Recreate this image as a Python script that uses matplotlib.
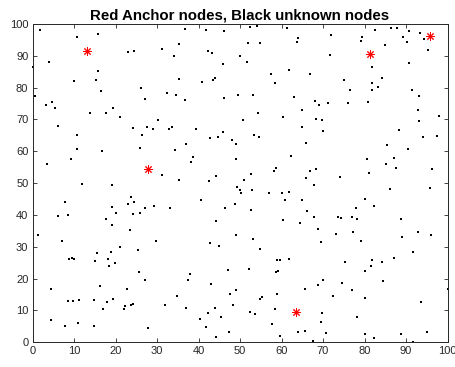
import matplotlib
matplotlib.use("Agg")
import matplotlib.pyplot as plt

# Unknown (black) nodes, grouped in horizontal bands (top to bottom)
x_band1 = [1.7,10.8,15.9,23.0,24.5,31.2,4.0,0.1,15.8,9.9,15.4,16.4,26.1,32.3,0.7,4.6,3.3,27.0,
           36.8,41.9,46.2,52.3,54.0,61.3,63.9,63.7,35.2,51.9,54.9,34.0,42.3,43.3,49.9,51.6,45.8,57.5,61.9,58.4,35.3,40.9,43.4,44.0,34.6,36.7,46.2,49.6,53.2,63.0,
           71.9,79.3,79.1,82.5,86.3,87.9,90.6,89.2,90.3,93.4,94.4,85.0,71.7,95.3,81.8,90.8,66.9,75.0,76.6,81.9,84.3,81.8,83.3,91.4,93.1,68.0,69.0,71.1,75.9,80.9]
y_band1 = [98.2,96.0,96.8,91.1,91.5,92.0,88.2,86.4,85.3,82.2,82.4,79.1,79.8,78.3,77.3,75.4,74.4,76.3,
           98.5,98.1,97.9,99.1,99.4,98.7,95.6,94.2,93.7,94.1,94.0,89.9,91.4,90.9,89.9,88.2,87.4,84.4,85.7,81.4,82.8,81.8,82.3,83.1,77.8,76.1,76.7,77.6,77.7,77.0,
           96.6,95.8,94.8,98.1,98.7,98.7,97.9,95.8,94.2,97.1,95.3,93.3,90.2,91.8,86.6,87.7,84.3,82.3,79.3,81.6,83.0,79.3,80.1,79.4,77.4,75.8,74.5,75.3,75.2,75.4]

x_band2 = [5.3,13.9,17.7,19.4,21.1,6.2,10.8,24.2,27.7,29.0,26.5,30.2,32.8,10.7,16.7,25.8,9.3,3.5,31.2,12.0,19.1,
           54.4,65.0,60.4,50.7,64.9,33.6,39.5,45.9,42.7,44.6,48.1,49.0,53.3,54.6,65.8,37.0,34.3,38.6,38.2,49.0,62.3,58.7,58.3,35.2,42.5,44.1,51.0,52.6,66.0,
           68.4,69.7,70.0,92.9,93.1,98.0,88.2,94.1,97.4,85.4,90.5,80.7,87.0,85.1,87.7,81.2,66.8,68.4,74.2,96.3,67.9]
y_band2 = [73.5,72.0,72.0,73.7,70.8,67.9,65.2,67.4,67.7,66.9,65.2,69.9,66.9,60.8,60.0,61.1,57.5,55.9,52.7,49.6,49.3,
           71.9,72.9,70.9,69.7,67.7,67.7,66.9,66.1,64.3,64.4,63.7,62.2,65.2,64.5,62.6,62.3,60.5,58.1,56.6,57.7,58.4,54.7,53.8,51.1,50.6,52.4,50.9,52.8,51.7,
           70.3,69.8,66.4,72.9,69.4,71.0,66.7,64.4,64.7,62.0,60.8,57.5,57.8,55.9,54.8,53.1,53.8,54.4,51.8,54.4,49.5]

x_band3 = [7.9,6.1,8.6,19.2,17.6,20.1,19.2,23.8,22.9,24.4,27.0,25.9,24.3,29.3,33.1,23.6,1.3,7.0,29.8,21.0,15.5,19.0,25.3,8.7,9.4,10.0,15.1,18.3,19.8,
           49.2,50.1,50.2,52.9,56.9,60.0,61.7,60.8,64.9,40.6,48.8,46.3,52.7,66.2,44.1,60.3,64.5,49.1,53.2,42.7,44.9,54.8,58.8,59.6,61.8,
           86.1,95.8,80.1,82.3,77.9,67.9,73.7,74.4,77.0,78.1,88.8,68.9,73.1,77.2,93.0,89.1,96.0,69.6,79.1,91.8,75.3,81.9,84.2,87.0]
y_band3 = [44.1,39.8,39.9,42.6,38.8,40.5,36.7,45.6,43.3,44.0,42.1,40.7,40.2,42.9,42.2,35.2,33.6,31.7,31.7,29.9,27.9,28.5,28.9,26.2,26.5,26.1,25.5,26.3,24.9,
           48.7,47.7,47.0,47.7,46.8,46.9,47.1,44.8,44.8,44.6,43.3,42.2,41.5,41.4,38.0,38.4,37.6,33.7,32.3,31.1,30.3,29.4,26.0,26.0,26.3,
           48.3,48.4,45.1,42.7,42.1,39.3,39.3,38.9,39.4,38.6,38.8,35.7,34.1,34.8,34.8,33.2,33.8,31.5,31.7,28.4,25.2,25.8,25.2,26.4]

x_band4 = [18.4,25.6,27.1,4.5,16.3,22.7,8.6,9.8,11.3,14.7,19.3,17.9,16.9,22.0,22.3,23.7,24.2,31.9,4.5,7.8,11.0,14.9,27.8,
           47.2,52.2,58.7,59.1,37.9,37.4,43.1,49.1,47.5,34.9,54.9,55.2,58.9,65.6,48.3,37.1,44.0,42.4,45.3,40.4,52.3,53.5,58.5,57.6,41.8,47.3,44.3,59.6,63.9,65.6,
           81.6,80.2,68.7,69.9,74.5,77.0,84.5,72.3,80.2,100.0,93.5,69.7,69.5,78.1,70.6,80.2,82.2,88.7,95.1,67.6,91.7]
y_band4 = [24.0,22.2,19.5,16.6,17.6,16.8,13.1,13.0,13.4,13.4,13.6,12.6,10.5,10.5,11.5,11.8,12.1,11.7,7.0,5.1,6.2,5.2,4.5,
           22.8,22.9,22.2,22.4,21.4,19.6,18.2,16.5,15.1,14.7,13.7,14.2,15.2,16.7,11.8,10.9,10.9,9.2,8.1,7.4,9.5,8.8,10.5,5.7,4.8,3.3,1.7,2.1,3.1,3.4,
           24.1,22.5,18.1,19.6,18.7,16.5,19.3,14.7,13.9,16.8,12.8,9.1,6.5,7.9,2.9,2.7,1.3,2.6,3.1,0.3,0.0]

# Anchor (red) nodes
x_anchor = [13.2, 81.4, 95.8, 27.8, 63.4]
y_anchor = [91.4, 90.5, 96.2, 54.4, 9.5]

ticks = [0, 10, 20, 30, 40, 50, 60, 70, 80, 90, 100]
title_text = "Red Anchor nodes, Black unknown nodes"

plt.rcParams['font.family'] = ['Liberation Sans', 'DejaVu Sans']

fig = plt.figure(figsize=(4.56, 3.67), dpi=100)
ax = fig.add_axes([0.0713, 0.0673, 0.9101, 0.8673])

axcol = '#262626'
for xs, ys in [(x_band1, y_band1), (x_band2, y_band2), (x_band3, y_band3), (x_band4, y_band4)]:
    ax.plot(xs, ys, linestyle='none', marker='s', markersize=2.1,
            color='black', markeredgewidth=0, clip_on=False)

ax.plot(x_anchor, y_anchor, linestyle='none', marker=(8, 2, 0), markersize=6,
        color='red', markeredgecolor='red', markeredgewidth=0.7, clip_on=False)

ax.set_xlim(0, 100)
ax.set_ylim(0, 100)
ax.set_xticks(ticks)
ax.set_yticks(ticks)
ax.tick_params(direction='in', length=3, width=0.6, top=True, right=True,
               labelsize=8, colors=axcol, pad=3)
for s in ax.spines.values():
    s.set_color(axcol)
    s.set_linewidth(0.7)

ax.set_title(title_text, fontsize=10.8, fontweight='bold', color='black', pad=3)

fig.savefig("out.png", dpi=100)
